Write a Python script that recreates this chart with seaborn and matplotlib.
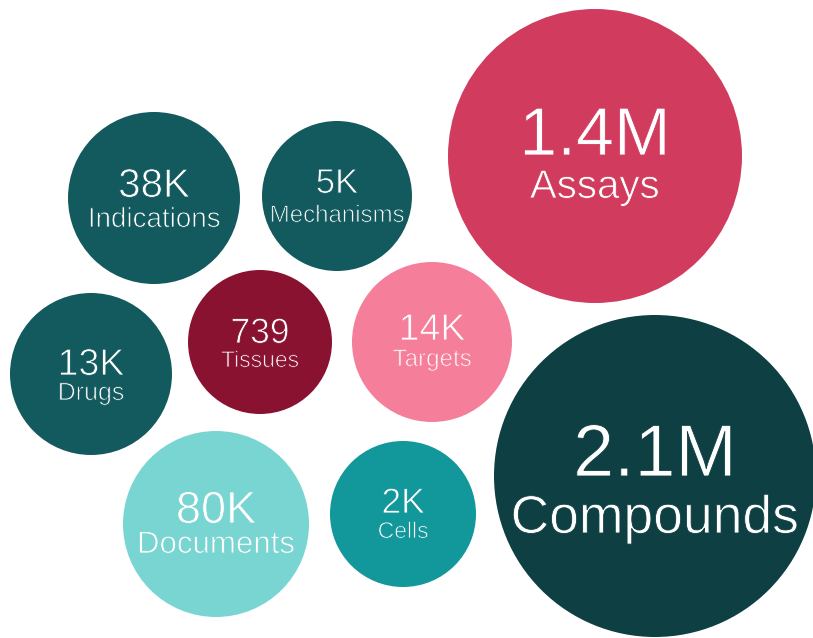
import matplotlib
matplotlib.use("Agg")
import matplotlib.pyplot as plt
import matplotlib.patheffects as pe
import pandas as pd
import seaborn as sns

# ---- data -------------------------------------------------------------
categories = ["Assays", "Compounds", "Indications", "Mechanisms", "Drugs",
              "Tissues", "Targets", "Documents", "Cells"]
counts = ["1.4M", "2.1M", "38K", "5K", "13K", "739", "14K", "80K", "2K"]

# ---- layout (pixel canvas, y grows downward) -------------------------
center_x = [595, 655, 154, 337, 91, 260, 432, 216, 403]
center_y = [156, 476, 198, 196, 374, 342, 342, 524, 514]
radius_px = [147, 161, 86, 75, 81, 72, 80, 93, 73]

# ---- styling ----------------------------------------------------------
colors = ["#D13B5E", "#0E3F42", "#135A5F", "#135A5F", "#135A5F",
          "#8A1231", "#F57F9B", "#78D5D2", "#12979A"]
count_pt = [49, 53, 29, 25, 27, 25.5, 27, 32.5, 25.5]
name_pt = [29, 38.5, 20, 17.3, 18, 16.5, 17.4, 22.5, 16.5]
count_base = [155, 476, 197, 193, 375, 343, 340, 523, 513]
name_base = [198, 533, 227, 222, 400, 367, 366, 553, 538]

DPI = 100
W, H = 813, 638

df = pd.DataFrame({
    "category": categories,
    "count": counts,
    "x": center_x,
    "y": center_y,
})

sns.set_theme(style="white")
plt.rcParams["font.family"] = ["Liberation Sans", "DejaVu Sans"]

fig = plt.figure(figsize=(W / DPI, H / DPI), dpi=DPI)
ax = fig.add_axes([0, 0, 1, 1])

# marker area in pt^2 so that each bubble has the given pixel radius
sizes = {c: (2 * r * 72 / DPI) ** 2 for c, r in zip(categories, radius_px)}
palette = dict(zip(categories, colors))

sns.scatterplot(data=df, x="x", y="y", hue="category", size="category",
                sizes=sizes, palette=palette, hue_order=categories,
                size_order=categories, linewidth=0, marker="o",
                legend=False, ax=ax)

ax.set_xlim(0, W)
ax.set_ylim(H, 0)
ax.set_axis_off()

for i, cat in enumerate(categories):
    thin = [pe.Stroke(linewidth=0.6, foreground=colors[i])]
    ax.text(center_x[i], count_base[i], counts[i], color="white",
            fontsize=count_pt[i], ha="center", va="baseline",
            path_effects=thin)
    ax.text(center_x[i], name_base[i], cat, color="white",
            fontsize=name_pt[i], ha="center", va="baseline",
            path_effects=thin)

fig.savefig("out.png", dpi=DPI, facecolor="white")
